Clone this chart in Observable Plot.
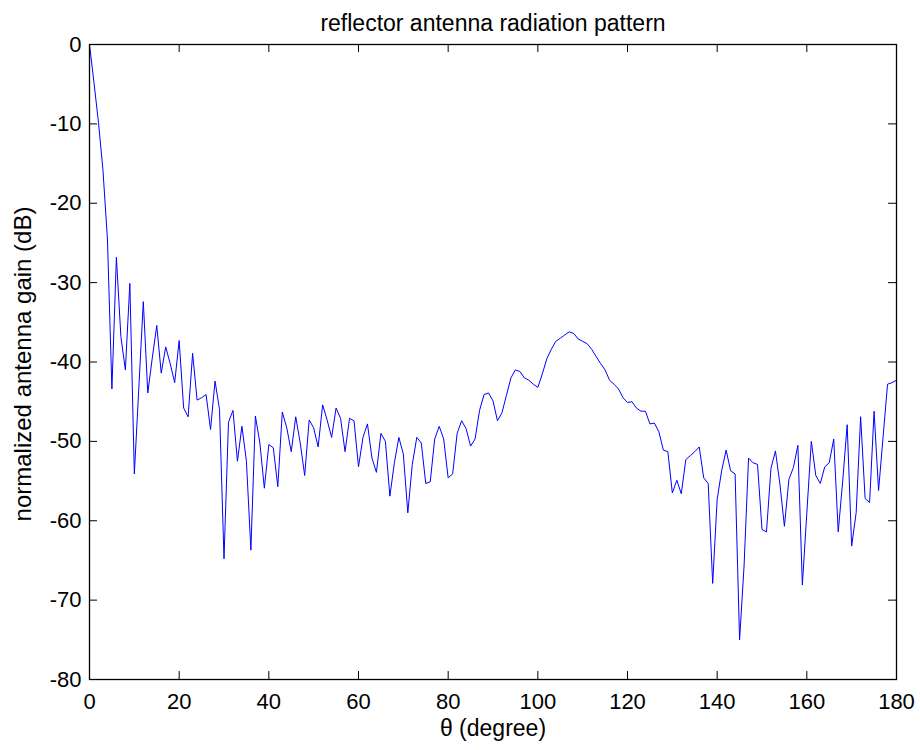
<!DOCTYPE html>
<html><head><meta charset="utf-8">
<script src="https://cdn.jsdelivr.net/npm/d3@7"></script>
<script src="https://cdn.jsdelivr.net/npm/@observablehq/plot@0.6"></script>
<style>html,body{margin:0;padding:0;background:#fff;} #chart svg{display:block;}</style>
</head><body><div id="chart"></div>
<script>
const title = "reflector antenna radiation pattern";
const xLabel = "θ (degree)";
const yLabel = "normalized antenna gain (dB)";
const xTicks = [0, 20, 40, 60, 80, 100, 120, 140, 160, 180];
const yTicks = [0, -10, -20, -30, -40, -50, -60, -70, -80];

const theta = [
  0,1,2,3,4,5,6,7,8,9,10,11,12,13,14,15,16,17,18,19,
  20,21,22,23,24,25,26,27,28,29,30,31,32,33,34,35,36,37,38,39,
  40,41,42,43,44,45,46,47,48,49,50,51,52,53,54,55,56,57,58,59,
  60,61,62,63,64,65,66,67,68,69,70,71,72,73,74,75,76,77,78,79,
  80,81,82,83,84,85,86,87,88,89,90,91,92,93,94,95,96,97,98,99,
  100,101,102,103,104,105,106,107,108,109,110,111,112,113,114,115,116,117,118,119,
  120,121,122,123,124,125,126,127,128,129,130,131,132,133,134,135,136,137,138,139,
  140,141,142,143,144,145,146,147,148,149,150,151,152,153,154,155,156,157,158,159,
  160,161,162,163,164,165,166,167,168,169,170,171,172,173,174,175,176,177,178,179,
  180
];

const gain = [
  0, -4.8, -9.8, -15.8, -24.5, -43.4, -26.8, -36.8, -41.0, -30.1,
  -54.1, -43.3, -32.4, -43.9, -39.5, -35.4, -41.4, -38.1, -40.2, -42.6,
  -37.3, -45.8, -46.9, -38.9, -44.8, -44.5, -44.1, -48.5, -42.4, -46.0,
  -64.8, -47.6, -46.1, -52.5, -48.1, -52.5, -63.7, -46.8, -50.2, -55.9,
  -50.4, -50.8, -55.7, -46.3, -48.3, -51.3, -46.9, -50.2, -54.3, -47.3,
  -48.3, -50.7, -45.4, -47.3, -49.5, -45.8, -47.1, -51.3, -47.1, -47.4,
  -53.2, -49.5, -47.8, -52.1, -53.9, -49.0, -50.0, -56.9, -52.7, -49.5,
  -51.6, -59.0, -52.9, -49.5, -50.2, -55.3, -55.1, -49.7, -48.1, -49.7,
  -54.6, -54.1, -49.0, -47.4, -48.4, -50.6, -49.7, -46.1, -44.1, -43.9,
  -44.9, -47.4, -46.4, -44.2, -42.0, -41.0, -41.2, -42.0, -42.3, -42.8,
  -43.2, -41.5, -39.6, -38.4, -37.4, -37.0, -36.6, -36.2, -36.4, -37.1,
  -37.4, -37.7, -38.4, -39.3, -40.2, -41.0, -42.3, -42.8, -43.4, -44.5,
  -45.1, -45.0, -45.8, -46.2, -46.2, -47.8, -47.7, -48.8, -51.1, -51.3,
  -56.5, -54.9, -56.6, -52.3, -51.8, -51.3, -50.7, -54.6, -55.3, -67.9,
  -57.3, -53.7, -51.1, -53.7, -54.1, -75.0, -65.7, -52.1, -52.7, -52.9,
  -61.1, -61.4, -53.4, -51.2, -55.4, -60.7, -54.8, -53.3, -50.5, -68.1,
  -59.0, -50.0, -54.3, -55.3, -53.2, -52.7, -49.7, -61.4, -55.0, -47.9,
  -63.2, -59.0, -46.9, -57.2, -57.7, -46.2, -56.2, -49.5, -42.8, -42.6,
  -42.3
];

const data = theta.map((t, i) => ({theta: t, gain: gain[i]}));
const font = "'Liberation Sans', Arial, Helvetica, sans-serif";
const W = 920, H = 750, ML = 89, MR = 24, MT = 44, MB = 71;
const innerW = W - ML - MR, innerH = H - MT - MB, tick = 8;

const chart = Plot.plot({
  width: W, height: H,
  marginLeft: ML, marginRight: MR, marginTop: MT, marginBottom: MB,
  style: {fontFamily: font, background: "#fff", color: "#000", overflow: "visible"},
  x: {domain: [0, 180]},
  y: {domain: [-80, 0]},
  marks: [
    Plot.line(data, {x: "theta", y: "gain", stroke: "#0000ff", strokeWidth: 1}),
    Plot.tickX(xTicks, {x: d => d, insetTop: innerH - tick, stroke: "#000"}),
    Plot.tickX(xTicks, {x: d => d, insetBottom: innerH - tick, stroke: "#000"}),
    Plot.tickY(yTicks, {y: d => d, insetRight: innerW - tick, stroke: "#000"}),
    Plot.tickY(yTicks, {y: d => d, insetLeft: innerW - tick, stroke: "#000"}),
    Plot.frame({stroke: "#000", strokeWidth: 1.3}),
    Plot.axisX(xTicks, {tickSize: 0, tickPadding: 14, fontSize: 22, tickFormat: d => String(d), label: null}),
    Plot.axisY(yTicks, {tickSize: 0, tickPadding: 8, fontSize: 22, tickFormat: d => String(d), label: null}),
    Plot.text([title], {frameAnchor: "top", textAnchor: "middle", dy: -30, fontSize: 23}),
    Plot.text([xLabel], {frameAnchor: "bottom", textAnchor: "middle", dy: 56, fontSize: 23}),
    Plot.text([yLabel], {frameAnchor: "left", textAnchor: "middle", dx: -66, dy: 2, rotate: -90, fontSize: 24, style: "letter-spacing:0.6px"})
  ]
});
document.getElementById("chart").appendChild(chart);
</script>
</body></html>
